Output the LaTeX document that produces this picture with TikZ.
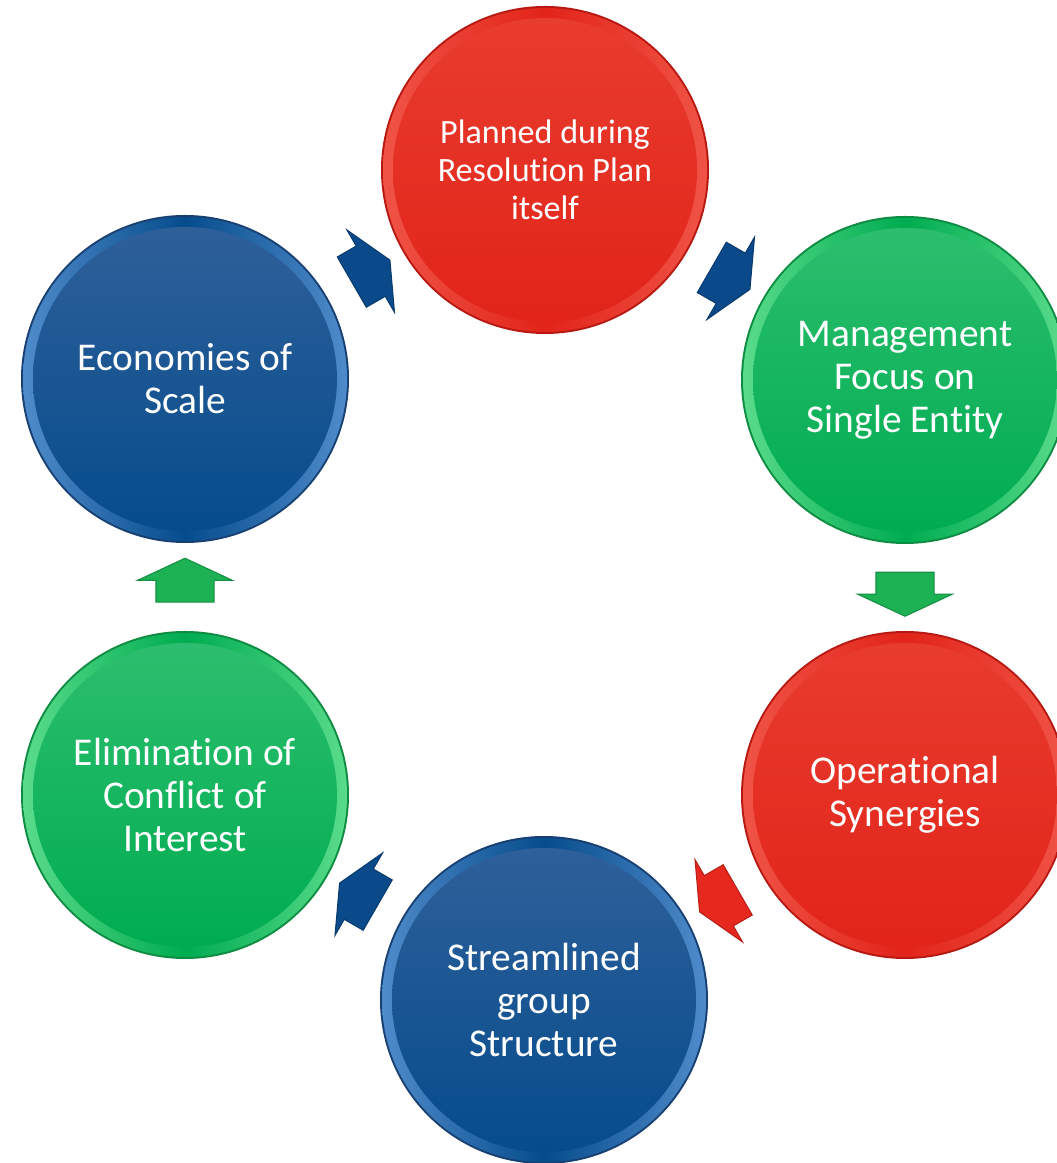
\documentclass[tikz,border=0pt]{standalone}
\usepackage{fontspec}
\setmainfont{Carlito}[Ligatures=NoCommon, Contextuals=NoAlternate, RawFeature={-clig}]
\usetikzlibrary{shapes.arrows,calc}
\definecolor{redface}{RGB}{226,36,26}
\definecolor{redtop}{RGB}{232,60,46}
\definecolor{redrim}{RGB}{240,84,70}
\definecolor{rededge}{RGB}{184,24,18}
\definecolor{greenface}{RGB}{0,172,80}
\definecolor{greentop}{RGB}{44,190,110}
\definecolor{greenrim}{RGB}{90,220,140}
\definecolor{greenedge}{RGB}{14,140,66}
\definecolor{blueface}{RGB}{6,76,140}
\definecolor{bluetop}{RGB}{46,96,154}
\definecolor{bluerim}{RGB}{80,140,204}
\definecolor{blueedge}{RGB}{24,64,114}
\definecolor{arrblue}{RGB}{10,74,138}
\definecolor{arrgreen}{RGB}{28,178,84}
\definecolor{arrred}{RGB}{230,40,30}
\tikzset{
	btn/.style={circle, minimum size=32.8mm, inner sep=0pt, fill=#1edge, text=white, align=center,
		font=\fontsize{11.2}{12.2}\selectfont,
		path picture={
			\shade[left color=#1rim, right color=#1rim, middle color=#1face] (path picture bounding box.center) circle (16.2mm);
			\shade[top color=#1top, bottom color=#1face] (path picture bounding box.center) circle (15.2mm);
		}},
	blk/.style={single arrow, minimum height=4.4mm, single arrow head extend=1.85mm,
		single arrow tip angle=130, inner xsep=0pt, inner ysep=2.85mm, fill=#1, draw=#1!80!black, line width=0.3pt}
}
\begin{document}
\begin{tikzpicture}[x=0.1mm, y=0.1mm]
	\useasboundingbox (0,0) rectangle (1056,1163);
	\node[btn=red, font=\fontsize{9.7}{10.9}\selectfont] (plan) at (545,993) {Planned during\\Resolution Plan\\itself};
	\node[btn=green] (focus) at (905,783) {Management\\Focus on\\Single Entity};
	\node[btn=red] (synergy) at (905,368) {Operational\\Synergies};
	\node[btn=blue] (group) at (544,163) {Streamlined\\group\\Structure};
	\node[btn=green] (conflict) at (185,368) {Elimination of\\Conflict of\\Interest};
	\node[btn=blue] (scale) at (185,784) {Economies of\\Scale};
	\node[blk=arrblue, rotate=30] (a1) at ($(scale)!.5!(plan)$) {};
	\node[blk=arrblue, rotate=-30] (a2) at ($(plan)!.5!(focus)$) {};
	\node[blk=arrgreen, rotate=-90] (a3) at ($(focus)!.5!(synergy)$) {};
	\node[blk=arrred, rotate=210] (a4) at ($(synergy)!.5!(group)$) {};
	\node[blk=arrblue, rotate=150] (a5) at ($(group)!.5!(conflict)$) {};
	\node[blk=arrgreen, rotate=90] (a6) at ($(conflict)!.5!(scale)$) {};
\end{tikzpicture}
\end{document}
